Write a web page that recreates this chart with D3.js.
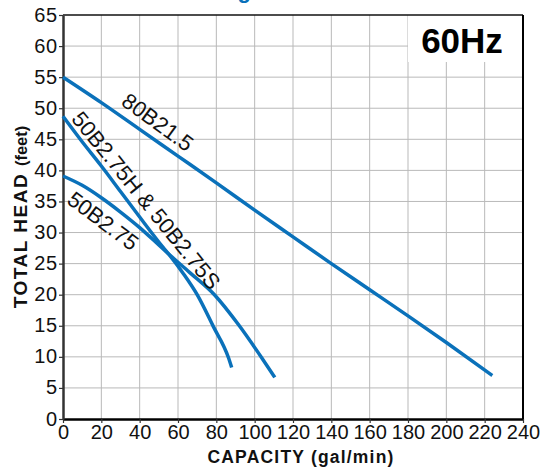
<!DOCTYPE html>
<html>
<head>
<meta charset="utf-8">
<script src="https://cdn.jsdelivr.net/npm/d3@7"></script>
<style>
  body { margin: 0; background: #fff; }
  svg { display: block; font-family: "Liberation Sans", Arial, Helvetica, sans-serif; }
</style>
</head>
<body>
<svg id="chart" width="541" height="470"></svg>
<script>
// capacity (gal/min) vs total head (feet)
const capacity80 = [0, 20, 40, 60, 80, 100, 120, 140, 160, 180, 200, 224];
const head80 = [55, 50.9, 46.6, 42.3, 38, 33.6, 29.3, 25, 20.8, 16.6, 12.3, 7];

const capacityH = [0, 10, 20, 30, 40, 52, 56, 63, 70, 78.4, 86.3, 88];
const headH = [48.7, 44.6, 40.7, 36.6, 32.5, 27.7, 26.2, 23.3, 20, 14.9, 9.9, 8.3];

const capacity50 = [0, 10, 20, 30, 40, 50, 56, 66, 79, 92, 104, 110.5];
const head50 = [39.1, 37.6, 35.6, 33.3, 30.8, 28, 26.3, 23.6, 20, 15, 9.7, 6.7];

const seriesNames = ["80B21.5", "50B2.75H & 50B2.75S", "50B2.75"];
// label anchor (capacity, head) and text angle
const labelAt = [[49.5, 47.8], [43.5, 35.2], [21, 31.9]];
const labelAngle = [36, 51, 37];

const xTicks = d3.range(0, 241, 20);
const yTicks = d3.range(0, 66, 5);

const series = [
  capacity80.map((x, i) => ({ x, y: head80[i] })),
  capacityH.map((x, i) => ({ x, y: headH[i] })),
  capacity50.map((x, i) => ({ x, y: head50[i] }))
];

const svg = d3.select("#chart");
const margin = { top: 15, right: 18, bottom: 51, left: 63 };
const width = 541, height = 470;

const xScale = d3.scaleLinear()
    .domain([0, 240])
    .range([margin.left, width - margin.right]);

const yScale = d3.scaleLinear()
    .domain([0, 65])
    .range([height - margin.bottom, margin.top]);

const blue = "#0a71ba";

// cut-off title above the plot
svg.append("text")
    .attr("x", 251)
    .attr("y", -2)
    .attr("text-anchor", "end")
    .attr("font-size", 22)
    .attr("font-weight", "bold")
    .attr("fill", blue)
    .text("Performance Rating");

// grid
svg.append("g")
    .selectAll("line")
    .data(xTicks.slice(1, -1))
    .enter()
    .append("line")
    .attr("x1", d => xScale(d))
    .attr("x2", d => xScale(d))
    .attr("y1", yScale(0))
    .attr("y2", yScale(65))
    .attr("stroke", "#b9b9b9")
    .attr("stroke-width", 1);

svg.append("g")
    .selectAll("line")
    .data(yTicks.slice(1, -1))
    .enter()
    .append("line")
    .attr("x1", xScale(0))
    .attr("x2", xScale(240))
    .attr("y1", d => yScale(d))
    .attr("y2", d => yScale(d))
    .attr("stroke", "#b9b9b9")
    .attr("stroke-width", 1);

// 60Hz box hides the grid
svg.append("rect")
    .attr("x", 408)
    .attr("y", yScale(65))
    .attr("width", xScale(240) - 408)
    .attr("height", 47)
    .attr("fill", "#fff");

svg.append("text")
    .attr("x", 462)
    .attr("y", 53)
    .attr("text-anchor", "middle")
    .attr("font-size", 35)
    .attr("font-weight", "bold")
    .attr("fill", "#000")
    .text("60Hz");

// frame top / right
svg.append("line")
    .attr("x1", xScale(0)).attr("x2", xScale(240))
    .attr("y1", yScale(65)).attr("y2", yScale(65))
    .attr("stroke", "#111").attr("stroke-width", 1.5);
svg.append("line")
    .attr("x1", xScale(240)).attr("x2", xScale(240))
    .attr("y1", yScale(65)).attr("y2", yScale(0))
    .attr("stroke", "#000").attr("stroke-width", 2);

// axes
const xAxis = svg.append("g")
    .attr("transform", `translate(0,${yScale(0)})`)
    .call(d3.axisBottom(xScale).tickValues(xTicks).tickSize(4).tickSizeOuter(0).tickPadding(2));

const yAxis = svg.append("g")
    .attr("transform", `translate(${xScale(0)},0)`)
    .call(d3.axisLeft(yScale).tickValues(yTicks).tickSize(4).tickSizeOuter(0).tickPadding(1));

xAxis.select(".domain").attr("stroke", "#000").attr("stroke-width", 2.5);
yAxis.select(".domain").attr("stroke", "#333").attr("stroke-width", 2.5);
svg.selectAll(".tick line").attr("stroke", "#333").attr("stroke-width", 1.2);
svg.selectAll(".tick text")
    .attr("font-family", "Liberation Sans, Arial, sans-serif")
    .attr("font-size", 20)
    .attr("fill", "#111");
yAxis.selectAll(".tick text").attr("dy", "0.3em").attr("letter-spacing", 0.8);

// curves
const line = d3.line()
    .x(d => xScale(d.x))
    .y(d => yScale(d.y))
    .curve(d3.curveMonotoneX);

svg.append("g")
    .selectAll("path")
    .data(series)
    .enter()
    .append("path")
    .attr("fill", "none")
    .attr("stroke", blue)
    .attr("stroke-width", 3.5)
    .attr("stroke-linecap", "butt")
    .attr("d", line);

// curve labels
svg.append("g")
    .selectAll("text")
    .data(seriesNames)
    .enter()
    .append("text")
    .attr("transform", (d, i) =>
        `translate(${xScale(labelAt[i][0])},${yScale(labelAt[i][1])}) rotate(${labelAngle[i]})`)
    .attr("text-anchor", "middle")
    .attr("dy", "0.36em")
    .attr("font-size", 22)
    .attr("fill", "#111")
    .text(d => d);

// axis titles
svg.append("text")
    .attr("x", 301)
    .attr("y", 463)
    .attr("text-anchor", "middle")
    .attr("font-size", 17.5)
    .attr("font-weight", "bold")
    .attr("letter-spacing", 1.2)
    .attr("fill", "#111")
    .text("CAPACITY (gal/min)");

const yTitle = svg.append("text")
    .attr("transform", "translate(27,217) rotate(-90)")
    .attr("text-anchor", "middle")
    .attr("font-weight", "bold")
    .attr("fill", "#111");
yTitle.append("tspan")
    .attr("font-size", 19)
    .attr("letter-spacing", 1.5)
    .text("TOTAL HEAD ");
yTitle.append("tspan")
    .attr("font-size", 16.5)
    .text("(feet)");
</script>
</body>
</html>
